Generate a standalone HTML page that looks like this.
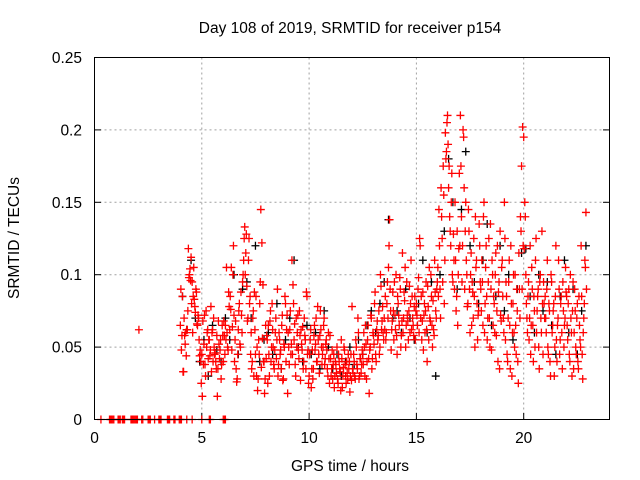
<!DOCTYPE html>
<html><head><meta charset="utf-8"><style>
html,body{margin:0;padding:0;background:#fff;}
svg{display:block;font-family:"Liberation Sans",sans-serif;}
</style></head><body>
<svg id="chart" width="640" height="480">
<rect width="640" height="480" fill="#fff"/>
<text x="350" y="33" font-size="15.5" text-anchor="middle">Day 108 of 2019, SRMTID for receiver p154</text>
<g id="grid"></g>
<g id="ticks"></g>
<g id="black"></g>
<g id="red"></g>
<rect x="94.5" y="57.5" width="515" height="362" fill="none" stroke="#000" stroke-width="1"/>
<text x="350" y="471" font-size="15.5" text-anchor="middle">GPS time / hours</text>
<text transform="translate(19,238) rotate(-90)" font-size="15.5" text-anchor="middle">SRMTID / TECUs</text>
</svg>
<script>
const xTicks=[0,5,10,15,20];
const yTicks=[0,0.05,0.1,0.15,0.2,0.25];
const yTickLabels=["0","0.05","0.1","0.15","0.2","0.25"];
const redStart=4.0, redStep=0.05;
const redA=[65,48,85,33,58,60,62,75,98,104,112,95,85,83,74,88,65,70,44,40,
45,68,52,38,75,60,42,55,48,33,62,70,45,40,58,35,52,48,28,65,
40,58,65,105,50,88,62,76,48,100,72,55,35,28,62,80,50,72,95,110,
133,115,92,70,125,85,60,40,75,88,45,30,20,55,80,145,122,93,40,28,
42,55,65,30,75,50,62,38,48,70,55,30,60,45,35,72,28,50,80,62,
18,50,62,45,110,93,55,38,70,60,48,75,27,52,64,40,58,35,85,48,
30,55,22,48,35,65,52,40,78,45,58,62,38,50,70,42,55,35,60,25,
42,35,28,45,30,38,50,25,40,33,55,22,36,48,30,40,28,35,19,45,78,32,40,28,50,35,60,30,42,38,
45,60,30,52,40,65,18,50,70,42,58,80,45,62,55,75,50,92,68,60,
70,85,60,95,105,138,75,62,88,55,72,100,45,80,65,90,58,115,70,82,50,95,68,75,60,110,85,65,78,55,
80,65,98,125,70,55,88,72,60,95,40,78,105,68,85,50,62,110,75,90,
105,145,90,160,125,175,80,198,185,210,160,140,120,170,95,110,150,75,130,100,
170,210,140,120,195,90,150,100,80,130,60,115,95,70,85,140,110,55,75,120,
90,110,65,150,80,120,55,95,70,135,48,100,85,60,115,75,40,95,130,68,
110,70,150,55,85,40,95,65,120,30,80,60,100,45,75,25,90,140,175,202,
195,150,100,70,85,55,120,65,90,40,75,110,60,85,50,95,70,130,45,80,
85,60,110,45,75,30,95,65,80,50,120,40,70,90,55,85,35,75,65,105,
85,55,90,40,70,30,95,60,75,45,80,35,65,50,85,28,70,110,143];
const redB=[90,58,33,70,52,44,62,118,100,96,80,60,105,78,90,66,72,55,48,25,
16,38,72,30,50,62,55,44,78,60,40,50,46,35,16,68,42,55,38,58,
68,45,55,60,48,78,85,105,64,120,40,68,26,45,75,52,88,60,100,125,
100,128,68,110,80,45,35,70,30,62,85,50,28,45,95,36,56,40,18,65,
58,25,45,68,40,80,50,35,60,42,90,38,55,48,65,27,52,85,40,72,
60,38,75,52,45,80,66,30,50,72,42,58,62,48,35,70,55,88,45,25,
45,62,35,28,58,48,70,40,55,32,75,50,45,65,38,52,48,30,42,58,
30,48,38,22,40,32,28,45,35,20,42,30,50,38,25,32,45,40,30,27,35,45,30,55,38,70,28,42,32,48,
38,50,65,28,55,42,48,72,35,60,52,88,40,68,58,45,100,62,78,55,
62,55,80,70,120,90,48,68,75,95,62,58,85,72,98,50,68,60,88,105,65,72,55,92,80,62,70,58,85,75,
72,90,60,120,85,68,48,80,75,62,92,55,70,100,65,82,58,88,70,95,
85,120,70,140,95,155,110,180,205,190,175,130,150,100,128,90,110,85,65,118,
120,175,95,200,160,130,110,78,145,90,100,65,88,125,50,105,80,72,135,95,
75,95,140,60,105,85,70,125,50,90,110,65,80,100,58,120,88,35,72,105,
85,60,125,95,45,70,110,35,80,60,100,50,65,90,40,115,70,130,90,120,
118,140,80,60,95,70,45,105,65,85,50,125,75,90,35,100,60,80,95,70,
70,90,50,80,40,100,60,75,30,85,55,65,110,45,80,60,95,50,70,88,
65,80,45,100,60,75,35,90,50,70,40,85,55,120,45,60,80,105,90];
const blackStart=4.1, blackStep=0.2;
const blackVals=[85,62,110,70,40,55,30,65,48,40,70,55,100,45,90,95,70,120,40,55,
60,45,80,35,55,70,110,50,40,65,45,60,35,75,50,35,45,30,40,50,
38,55,45,65,75,60,80,95,138,70,75,60,90,70,55,80,110,60,95,30,
100,130,180,150,90,145,185,120,95,80,110,135,65,85,120,75,100,55,90,115,
118,85,60,100,75,95,65,45,85,110,60,90,45,75,120];
const extraTimes=[2.07];
const extraVals=[62];
const zeroTimes=[0.3,0.7,0.75,0.8,0.85,0.9,1.1,1.15,1.2,1.3,1.35,1.4,1.7,1.75,1.8,1.85,1.9,1.95,2.0,2.2,2.25,2.5,2.55,2.6,2.8,3.0,3.05,3.1,3.4,3.45,3.5,3.7,3.75,3.95,4.0,4.05,4.3,4.55,5.0,5.35,5.4,6.0,6.05,6.1];

const X=t=>94.5+t*21.46;
const Y=v=>419.5-v*1448;
const NS="http://www.w3.org/2000/svg";
const grid=document.getElementById('grid'), ticks=document.getElementById('ticks');
function mk(tag,parent,attrs){const e=document.createElementNS(NS,tag);for(const k in attrs)e.setAttribute(k,attrs[k]);parent.appendChild(e);return e;}
xTicks.forEach(t=>{
  if(t>0){const l=mk('line',grid,{x1:X(t),x2:X(t),y1:57.5,y2:419.5,stroke:'#a0a0a0','stroke-dasharray':'2,3'});
  
  }
  mk('line',ticks,{x1:X(t),x2:X(t),y1:419.5,y2:413,stroke:'#000'});
  const tx=mk('text',ticks,{x:X(t),y:443,'font-size':15.5,'text-anchor':'middle'});tx.textContent=t;
  
  
});
yTicks.forEach((v,i)=>{
  if(v>0&&v<0.25){const l=mk('line',grid,{x1:94.5,x2:609.5,y1:Y(v),y2:Y(v),stroke:'#a0a0a0','stroke-dasharray':'2,3'});
  
  }
  mk('line',ticks,{x1:94.5,x2:101,y1:Y(v),y2:Y(v),stroke:'#000'});
  mk('line',ticks,{x1:609.5,x2:603,y1:Y(v),y2:Y(v),stroke:'#000'});
  const tx=mk('text',ticks,{x:82,y:Y(v)+5.5,'font-size':15.5,'text-anchor':'end'});tx.textContent=yTickLabels[i];
  
  
});
function plus(g,t,v,color,name){
  const x=X(t),y=Y(v);
  const p=mk('path',g,{d:`M${x-4},${y}H${x+4}M${x},${y-4}V${y+4}`,stroke:color,'stroke-width':1.3,fill:'none'});
  
  
}
const bg=document.getElementById('black'), rg=document.getElementById('red');
blackVals.forEach((v,i)=>plus(bg,blackStart+i*blackStep,v/1000,'#000','black-point'));
redA.forEach((v,i)=>plus(rg,redStart+i*redStep,v/1000,'#ff0000','red-point'));
redB.forEach((v,i)=>plus(rg,redStart+i*redStep+0.025,v/1000,'#ff0000','red-point'));
extraTimes.forEach((t,i)=>plus(rg,t,extraVals[i]/1000,'#ff0000','red-point'));
zeroTimes.forEach(t=>plus(rg,t,0,'#ff0000','red-zero-point'));
</script>
</body></html>
